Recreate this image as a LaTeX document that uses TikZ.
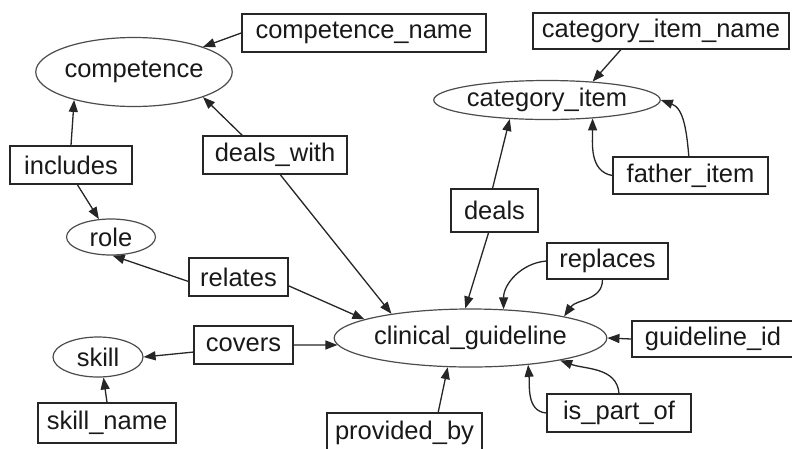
\documentclass[tikz,border=0pt]{standalone}
\usepackage{fontspec}
\setmainfont{Liberation Sans}
\usetikzlibrary{shapes.geometric,arrows.meta}
\begin{document}
\begin{tikzpicture}[x=1pt,y=-1pt,
  every node/.style={font=\fontsize{25.5}{30}\selectfont, text=black!90, inner sep=0pt},
  attr/.style={draw=black!85, line width=1.5pt, rectangle, minimum width=#1, minimum height=38pt},
  ent/.style={draw=black!70, line width=1.2pt, ellipse},
  arr/.style={draw=black!85, line width=1.3pt, -{Triangle[length=12pt,width=9pt]}}
]
\useasboundingbox[fill=white] (0,0) rectangle (792,448);
% entities
\node[ent, minimum width=190pt, minimum height=69pt] (comp) at (134,72) {competence};
\node[ent, minimum width=199pt, minimum height=39pt] (ci) at (547,100) {category\_item};
\node[ent, minimum width=89pt, minimum height=36pt] (role) at (111,237) {role};
\node[ent, minimum width=90pt, minimum height=40pt] (skill) at (98,357) {skill};
\node[ent, minimum width=245pt, minimum height=58pt] (cg) at (470.5,338) {clinical\_guideline};
% attributes / relations
\node[attr=244pt] (cn) at (364,33) {competence\_name};
\node[attr=256pt, minimum height=36pt] (cin) at (661,31) {category\_item\_name};
\node[attr=155pt, minimum height=37pt] (fi) at (690.5,175.5) {father\_item};
\node[attr=87pt, minimum height=43pt] (deals) at (494.5,210.5) {deals};
\node[attr=122pt] (incl) at (71,165) {includes};
\node[attr=144pt] (dw) at (275,155) {deals\_with};
\node[attr=99pt] (rel) at (238.5,277) {relates};
\node[attr=99pt] (cov) at (243.5,345) {covers};
\node[attr=138pt, minimum height=40pt] (sn) at (107,423) {skill\_name};
\node[attr=155pt, minimum height=39pt] (pb) at (404.5,432.5) {provided\_by};
\node[attr=121pt, minimum height=36pt] (rep) at (607.5,261) {replaces};
\node[attr=162pt, minimum height=36pt] (gid) at (713,339) {guideline\_id};
\node[attr=144pt] (ipo) at (619,413) {is\_part\_of};
% connectors
\draw[arr] (cn.west) -- (comp.20);
\draw[arr] (incl.north) -- (comp.-155);
\draw[arr] (incl.-72) -- (role.124);
\draw[arr] (dw.149) -- (comp.-20);
\draw[arr] (dw.-75) -- (cg.163);
\draw[arr] (rel.185) -- (role.-85);
\draw[arr] (rel.-10) -- (cg.170);
\draw[arr] (cov.188) -- (skill.east);
\draw[arr] (cov.east) -- (cg.183);
\draw[arr] (sn.north) -- (skill.-75);
\draw[arr] (deals.95) -- (ci.-153);
\draw[arr] (deals.-105) -- (cg.100);
\draw[arr] (cin.-155) -- (ci.22);
\draw[arr] (fi.west) to[out=170,in=-90] (ci.-22);
\draw[arr] (fi.95) to[out=95,in=-20] (ci.east);
\draw[arr] (rep.west) to[out=185,in=90] (cg.41);
\draw[arr] (rep.-105) to[out=-90,in=55] (cg.13);
\draw[arr] (gid.west) -- (cg.east);
\draw[arr] (ipo.west) to[out=175,in=-85] (cg.-25.5);
\draw[arr] (ipo.north) to[out=95,in=-20] (cg.-14);
\draw[arr] (pb.31) -- (cg.-128);
\end{tikzpicture}
\end{document}
